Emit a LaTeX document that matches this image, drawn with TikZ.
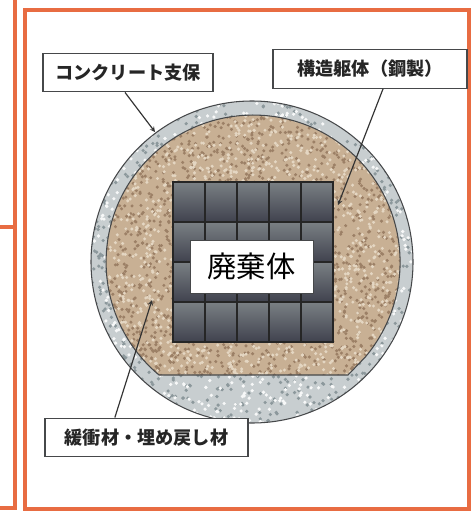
\documentclass[tikz,border=0pt]{standalone}
\usepackage{fontspec}
\setmainfont{Noto Sans CJK JP}
\usetikzlibrary{positioning}

\definecolor{frameorange}{RGB}{232,108,66}
\definecolor{concrete}{RGB}{200,206,208}
\definecolor{concretedark}{RGB}{140,152,156}
\definecolor{sand}{RGB}{200,176,148}
\definecolor{sanddark}{RGB}{156,128,102}
\definecolor{sandlight}{RGB}{228,214,194}
\definecolor{celltop}{RGB}{122,128,132}
\definecolor{cellbottom}{RGB}{64,66,78}
\definecolor{outline}{RGB}{70,72,74}

\begin{document}
\begin{tikzpicture}[x=0.03cm, y=-0.03cm, >=stealth,
    labelbox/.style={draw=outline, line width=1pt, fill=white, inner sep=0pt,
        font=\fontsize{15.5}{18}\selectfont\bfseries, text=black!85, minimum height=1.16cm},
    leader/.style={->, draw=black!80, line width=1pt}]

    \useasboundingbox (0,0) rectangle (472,512);
    \fill[white] (0,0) rectangle (472,512);

    \draw[frameorange, line width=3.2pt] (25,10) rectangle (469,509);
    \draw[frameorange, line width=3.2pt] (15,0) -- (15,508) -- (0,508);
    \draw[frameorange, line width=3.2pt] (0,227) -- (15,227);

    \fill[concrete] (252,262) circle[radius=161];
    \begin{scope}
        \clip (252,262) circle[radius=161];
        \pgfmathsetseed{11}
        \foreach \i in {1,...,1500} {
            \fill[concretedark] ({91+rnd*322},{101+rnd*322}) circle[radius=1.8];
        }
        \foreach \i in {1,...,1100} {
            \fill[white!85!concrete] ({91+rnd*322},{101+rnd*322}) circle[radius=1.8];
        }
    \end{scope}
    \draw[outline, line width=0.9pt] (252,262) circle[radius=161];

    \fill[sand] (159,375) arc[start angle=129.8, end angle=400.3, radius=147] -- (348,375) -- cycle;
    \begin{scope}
        \clip (159,375) arc[start angle=129.8, end angle=400.3, radius=147] -- (348,375) -- cycle;
        \pgfmathsetseed{23}
        \foreach \i in {1,...,1700} {
            \fill[sanddark] ({105+rnd*296},{114+rnd*262}) circle[radius=1.7];
        }
        \foreach \i in {1,...,1400} {
            \fill[sandlight] ({105+rnd*296},{114+rnd*262}) circle[radius=1.7];
        }
    \end{scope}
    \draw[outline, line width=0.9pt] (159,375) arc[start angle=129.8, end angle=400.3, radius=147] -- (348,375) -- cycle;

    \foreach \c in {0,...,4} {
        \foreach \r in {0,...,3} {
            \shade[top color=celltop, bottom color=cellbottom] ({173+32*\c},{182+40*\r}) rectangle ++(32,40);
        }
    }
    \foreach \c in {1,...,4} {
        \draw[black!85, line width=1.3pt] ({173+32*\c},182) -- ({173+32*\c},342);
    }
    \foreach \r in {1,...,3} {
        \draw[black!85, line width=1.3pt] (173,{182+40*\r}) -- (333,{182+40*\r});
    }
    \draw[black!85, line width=1.8pt] (173,182) rectangle (333,342);

    \node[draw=outline, line width=0.6pt, fill=white, inner sep=0pt, minimum width=3.69cm, minimum height=1.59cm,
        font=\fontsize{25}{28}\selectfont] (waste) at (251.5,266.5) {廃棄体};

    \node[labelbox, minimum width=5.1cm] (concretebox) at (128,72.5) {コンクリート支保};
    \node[labelbox, minimum width=5.82cm] (steelbox) at (370,69) {構造躯体（鋼製）};
    \node[labelbox, minimum width=6.09cm] (fillbox) at (146.5,437.5) {緩衝材・埋め戻し材};

    \coordinate (concretetip) at (155,132);
    \coordinate (steeltip) at (338,205);
    \coordinate (filltip) at (152,300);

    \draw[leader] ([xshift=-0.09cm]concretebox.south) -- (concretetip);
    \draw[leader] ([xshift=0.39cm]steelbox.south) -- (steeltip);
    \draw[leader] ([xshift=-0.95cm]fillbox.north) -- (filltip);
\end{tikzpicture}
\end{document}
